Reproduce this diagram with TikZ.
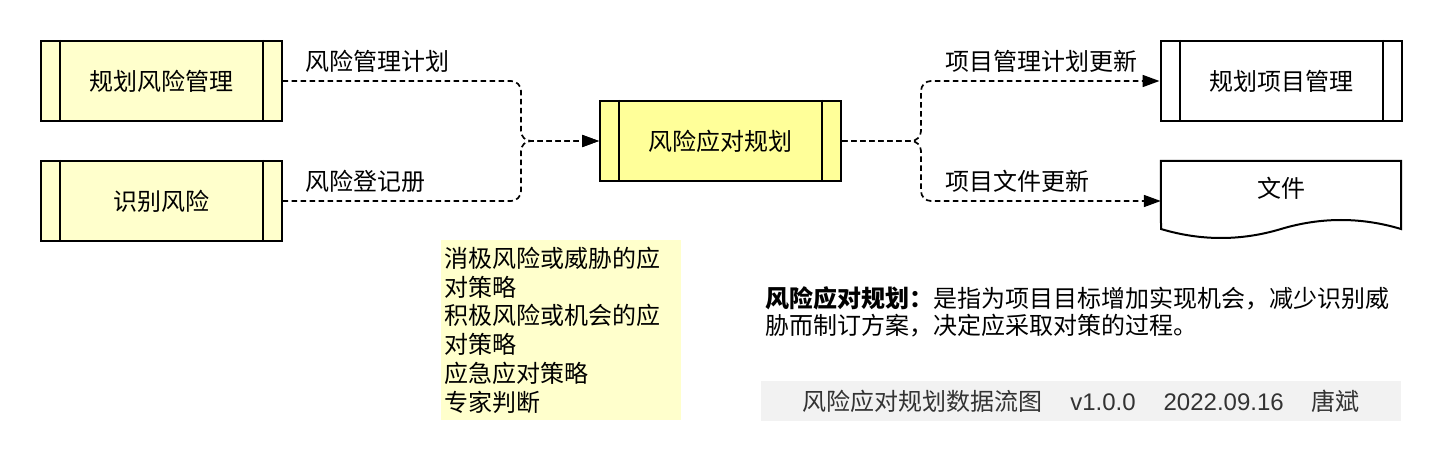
\documentclass[tikz,border=0pt]{standalone}
\usepackage{fontspec}
\setmainfont{Noto Sans CJK SC}
\newfontfamily\latinfont{Liberation Sans}
\usetikzlibrary{arrows.meta}
\definecolor{procfill}{HTML}{FFFFCC}
\definecolor{mainfill}{HTML}{FFFF99}
\definecolor{notefill}{HTML}{FFFFCC}
\definecolor{footfill}{HTML}{F2F2F2}
\definecolor{foottext}{HTML}{333333}
\tikzset{
  every node/.style={font=\fontsize{24pt}{28.7pt}\selectfont},
  procbox/.style={draw, line width=2pt, minimum width=241pt, minimum height=80pt, inner sep=0pt},
  barline/.style={line width=2pt},
  flow/.style={line width=1.7pt, dash pattern=on 5.5pt off 3.5pt, rounded corners=10pt, -{Triangle[length=17pt,width=12pt]}},
  edgelabel/.style={anchor=west, inner sep=0pt},
}
\begin{document}
\begin{tikzpicture}[x=1pt,y=-1pt]
\useasboundingbox (0,0) rectangle (1442,462);

% process boxes
\node[procbox, fill=procfill] (plan) at (161,81) {规划风险管理};
\node[procbox, fill=procfill] (ident) at (161,201) {识别风险};
\node[procbox, fill=mainfill] (main) at (720.5,141) {风险应对规划};
\node[procbox, fill=white] (pm) at (1281,81) {规划项目管理};
\foreach \b in {plan,ident,main,pm}{
  \draw[barline] ([xshift=20pt]\b.north west) -- ([xshift=20pt]\b.south west);
  \draw[barline] ([xshift=-20pt]\b.north east) -- ([xshift=-20pt]\b.south east);
}

% document shape
\node[minimum width=240pt, minimum height=80pt, inner sep=0pt] (doc) at (1281,201) {};
\draw[line width=2pt, fill=white] (doc.north west) -- (doc.north east) -- (1401,229)
  .. controls (1361,217) and (1321,217) .. (1281,229)
  .. controls (1241,241) and (1201,241) .. (1161,229) -- cycle;
\node (doctext) at (1281,188) {文件};

% junctions
\coordinate (jl) at (521,141);
\coordinate (jr) at (921,141);

% connectors
\draw[flow] (plan.east) -| (jl) -- (main.west);
\draw[flow] (ident.east) -| (jl) -- (main.west);
\draw[flow] (main.east) -- (jr) |- (pm.west);
\draw[flow] (main.east) -- (jr) |- (doc.west);

% edge labels
\node[edgelabel] (l1) at (305,61) {风险管理计划};
\node[edgelabel] (l2) at (305,181) {风险登记册};
\node[edgelabel] (l3) at (945,61) {项目管理计划更新};
\node[edgelabel] (l4) at (945,181) {项目文件更新};

% note
\node[fill=notefill, anchor=north west, text width=234pt, minimum height=180pt, inner sep=3pt, align=left] (note) at (441,240)
  {消极风险或威胁的应\\对策略\\积极风险或机会的应\\对策略\\应急应对策略\\专家判断};

% description
\node[anchor=west, align=left, inner sep=0pt, font=\fontsize{24pt}{27pt}\selectfont] (desc) at (765,311.5)
  {\textbf{风险应对规划：}是指为项目目标增加实现机会，减少识别威\\胁而制订方案，决定应采取对策的过程。};

% footer
\node[fill=footfill, minimum width=640pt, minimum height=40pt, inner sep=0pt, text=foottext] (foot) at (1081,401)
  {风险应对规划数据流图\hspace{28pt}{\latinfont v1.0.0}\hspace{28pt}{\latinfont 2022.09.16}\hspace{28pt}唐斌};
\end{tikzpicture}
\end{document}
